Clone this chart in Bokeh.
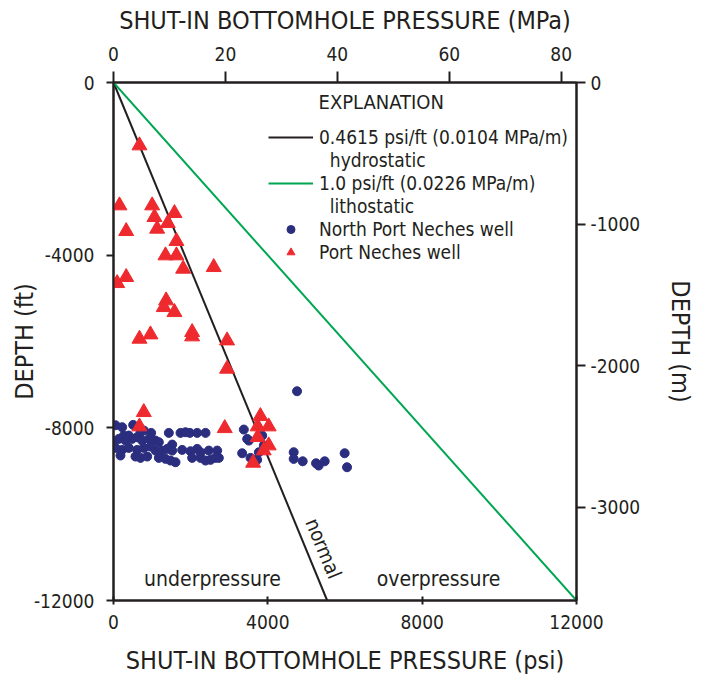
from bokeh.plotting import figure
from bokeh.models import (Range1d, LinearAxis, FixedTicker, Legend, LegendItem, ColumnDataSource,
                          PrintfTickFormatter, Label)
from bokeh.core.properties import value
from bokeh.embed import file_html
from bokeh.resources import INLINE

FONT = "DejaVu Sans Condensed, DejaVu Sans, sans-serif"

# gradient lines (psi vs depth ft)
grad_depth = [0, -12000]
hydro_psi = [0, 5538]
litho_psi = [0, 12000]

# North Port Neches well
npn_psi = [52, 225, 510, 786, 976, 1434, 1737, 1866, 1978, 2169, 2385, 3378,
           10, 138, 311, 484, 613, 743, 916, 1089, 1175, 1521, 268, 397, 700,
           52, 225, 397, 613, 786, 959, 1089, 1261, 1391, 1521, 1780, 1996, 2169, 2255, 2471, 2687,
           3508, 3335, 3551, 3767, 3897, 3854, 3724, 3465,
           181, 570, 700, 873, 1175, 1348, 1477, 1607, 2039, 2255, 2385, 2514, 2644, 2730,
           4757, 4670, 4670, 4903, 5250, 5318, 5473, 5991, 6053]
npn_depth = [-7940, -7986, -7932, -8063, -8117, -8117, -8117, -8102, -8117, -8117, -8117, -8040,
             -8310, -8256, -8295, -8256, -8218, -8295, -8256, -8295, -8333, -8388, -8179, -8179, -8102,
             -8465, -8511, -8465, -8511, -8465, -8434, -8527, -8527, -8488, -8527, -8511, -8542, -8488, -8566, -8527, -8527,
             -8295, -8589, -8696, -8566, -8410, -8179, -8742, -8256,
             -8642, -8665, -8696, -8665, -8696, -8719, -8758, -8797, -8696, -8696, -8758, -8742, -8696, -8696,
             -7152, -8565, -8720, -8775, -8821, -8874, -8775, -8589, -8913]

# Port Neches well
pn_psi = [673, 155, 1002, 1580, 1062, 1407, 329, 1131, 1632, 1347, 1632, 1805, 2598, 329, 95,
          1364, 1303, 1580, 673, 958, 2038, 2038, 2944, 2944, 785, 673, 2883, 3807, 3737, 4022,
          3737, 4022, 3893, 3618]
pn_depth = [-1460, -2850, -2850, -3028, -3120, -3260, -3445, -3390, -3677, -4008, -4008, -4317, -4279, -4510, -4650,
            -5051, -5206, -5322, -5939, -5839, -5785, -5885, -5978, -6634, -7638, -7970, -8010, -7731, -7970, -7970,
            -8218, -8410, -8526, -8812]

x_ticks = [0, 4000, 8000, 12000]
y_ticks = [0, -4000, -8000, -12000]
mpa_ticks = [0, 20, 40, 60, 80]
m_ticks = [0, -1000, -2000, -3000]

p = figure(frame_width=463, frame_height=518, output_backend="svg", toolbar_location=None,
           x_range=Range1d(0, 12000), y_range=Range1d(-12000, 0),
           min_border_left=113, min_border_top=82, min_border_right=120, min_border_bottom=75)
p.grid.visible = False
p.outline_line_color = "#231F20"
p.outline_line_width = 2
p.background_fill_color = "white"

p.extra_x_ranges = {"mpa": Range1d(0, 12000 * 0.00689476)}
p.extra_y_ranges = {"m": Range1d(-12000 * 0.3048, 0)}

def style(ax, ticks, label, tin, tout):
    ax.ticker = FixedTicker(ticks=ticks)
    ax.formatter = PrintfTickFormatter(format="%d")
    ax.minor_tick_line_color = None
    ax.major_tick_in = tin
    ax.major_tick_out = tout
    ax.axis_line_width = 2
    ax.major_tick_line_width = 2
    ax.axis_line_color = "#231F20"
    ax.major_tick_line_color = "#231F20"
    ax.major_label_text_font = FONT
    ax.major_label_text_font_size = "19px"
    ax.major_label_text_color = "#231F20"
    ax.axis_label = label
    ax.axis_label_text_font = FONT
    ax.axis_label_text_font_size = "25px"
    ax.axis_label_text_font_style = "normal"
    ax.axis_label_text_color = "#231F20"

bottom = p.xaxis[0]
style(bottom, x_ticks, "SHUT-IN BOTTOMHOLE PRESSURE (psi)", 4, 4)
bottom.major_label_standoff = 10
bottom.axis_label_standoff = 14

left = p.yaxis[0]
style(left, y_ticks, "DEPTH (ft)", 0, 7)
left.major_label_standoff = 12
left.axis_label_standoff = -8

top = LinearAxis(x_range_name="mpa")
style(top, mpa_ticks, "SHUT-IN BOTTOMHOLE PRESSURE (MPa)", 0, 11)
top.major_label_standoff = 11
top.axis_label_standoff = 9
p.add_layout(top, "above")

right = LinearAxis(y_range_name="m")
style(right, m_ticks, "DEPTH (m)", 0, 9)
right.axis_label_standoff = 23
p.add_layout(right, "right")

hl = p.line(hydro_psi, grad_depth, line_color="#231F20", line_width=2)
ll = p.line(litho_psi, grad_depth, line_color="#00A651", line_width=2)
cr = p.scatter(npn_psi, npn_depth, marker="circle", size=9, fill_color="#2B2E7F", line_color="#2B2E7F")
tr = p.scatter(pn_psi, pn_depth, marker="triangle", size=15, fill_color="#EE2A2E", line_color="#EE2A2E")

lab = ColumnDataSource(dict(x=[2566, 8424], y=[-11492, -11492], t=["underpressure", "overpressure"]))
p.text(x="x", y="y", text="t", source=lab, text_font=value(FONT), text_font_size="21px",
       text_align="center", text_baseline="middle", text_color="#231F20")
p.text(x=[5443], y=[-10797], text=["normal"], angle=-1.18, text_font=value(FONT), text_font_size="20px",
       text_align="center", text_baseline="middle", text_color="#231F20")

p.add_layout(Label(x=5314, y=-463, text="EXPLANATION", text_font=FONT, text_font_size="20px",
                   text_baseline="middle", text_align="left", text_color="#231F20"))

legend = Legend(items=[
    LegendItem(label="0.4615 psi/ft (0.0104 MPa/m)", renderers=[hl]),
    LegendItem(label="  hydrostatic", renderers=[]),
    LegendItem(label="1.0 psi/ft (0.0226 MPa/m)", renderers=[ll]),
    LegendItem(label="  lithostatic", renderers=[]),
    LegendItem(label="North Port Neches well", renderers=[cr]),
    LegendItem(label="Port Neches well", renderers=[tr]),
], location=(151, 333))
legend.label_text_font = FONT
legend.label_text_font_size = "19px"
legend.label_text_color = "#231F20"
legend.label_height = 20
legend.label_standoff = 6
legend.border_line_alpha = 0
legend.background_fill_alpha = 0
legend.glyph_width = 45
legend.glyph_height = 20
legend.spacing = 1
legend.padding = 4
legend.margin = 0
p.add_layout(legend)

open("out.html", "w").write(file_html(p, INLINE))
